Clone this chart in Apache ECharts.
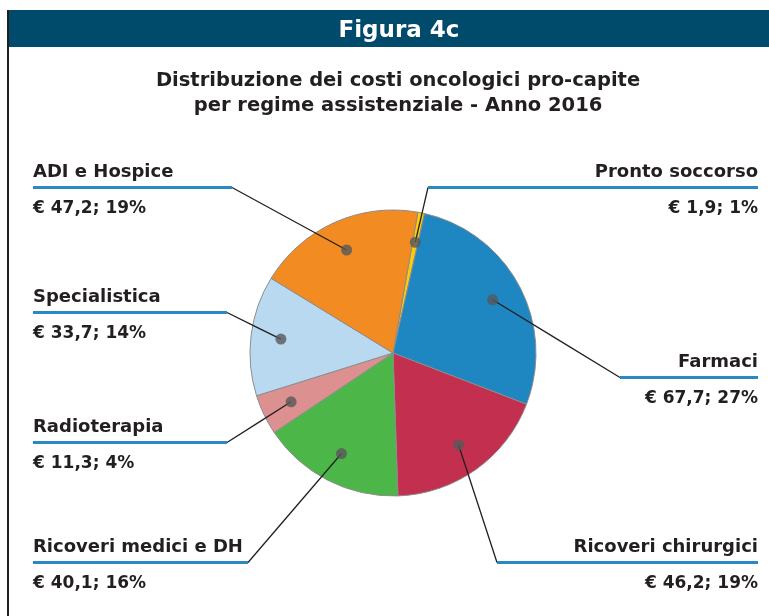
<!DOCTYPE html>
<html lang="it">
<head>
<meta charset="UTF-8">
<title>Figura 4c</title>
<style>
    html, body { margin: 0; padding: 0; background: #fff; }
    #main { width: 769px; height: 616px; }
</style>
</head>
<body>
<div id="main"></div>
<script src="https://cdn.jsdelivr.net/npm/echarts@6/dist/echarts.min.js"></script>
<script>
var categories = ['Pronto soccorso', 'Farmaci', 'Ricoveri chirurgici', 'Ricoveri medici e DH', 'Radioterapia', 'Specialistica', 'ADI e Hospice'];
var costs = [1.9, 67.7, 46.2, 40.1, 11.3, 33.7, 47.2];
var shares = [1, 27, 19, 16, 4, 14, 19];
var colors = ['#ffcb05', '#1e86c0', '#c32f4e', '#4cb748', '#dd9090', '#b9d9f1', '#f28b21'];

// label placement: side, top of the name line, inner end of the blue rule
var labelPos = [
    {side: 'right', top: 158, end: 428},
    {side: 'right', top: 348, end: 620},
    {side: 'right', top: 533, end: 497},
    {side: 'left', top: 533, end: 248},
    {side: 'left', top: 413, end: 227},
    {side: 'left', top: 283, end: 227},
    {side: 'left', top: 158, end: 232}
];

var CX = 393, CY = 353, R = 143, START = 80, DOT = 0.79;
var LEFT_X = 33, RIGHT_X = 758;
var FONT = '"DejaVu Sans"';
var INK = '#231f20';

var total = costs.reduce(function (a, b) { return a + b; }, 0);

var midValue = function (i) {
    var s = 0;
    for (var k = 0; k < i; k++) s += costs[k];
    return s + costs[i] / 2;
};

var chart = echarts.init(document.getElementById('main'));

var richFor = function (i) {
    var lp = labelPos[i];
    var w = lp.side === 'left' ? lp.end - LEFT_X : RIGHT_X - lp.end;
    return {
        n: {fontFamily: FONT, fontWeight: 'bold', fontSize: 18, color: INK, lineHeight: 28},
        u: {width: w, height: 3, lineHeight: 3, fontSize: 3, backgroundColor: '#2a88c5'},
        v: {fontFamily: FONT, fontWeight: 'bold', fontSize: 17, color: INK, lineHeight: 40}
    };
};

var option = {
    animation: false,
    graphic: [
        {type: 'rect', shape: {x: 9, y: 10, width: 760, height: 37}, style: {fill: '#004a6c'}},
        {type: 'rect', shape: {x: 7, y: 10, width: 2, height: 606}, style: {fill: INK}}
    ],
    title: [
        {
            text: 'Figura 4c',
            left: 394, top: 15, textAlign: 'center',
            textStyle: {fontFamily: FONT, fontWeight: 'bold', fontSize: 23, color: '#fff'}
        },
        {
            text: 'Distribuzione dei costi oncologici pro-capite\nper regime assistenziale - Anno 2016',
            left: 393, top: 63, textAlign: 'center',
            textStyle: {fontFamily: FONT, fontWeight: 'bold', fontSize: 19.5, lineHeight: 25, color: INK}
        }
    ],
    polar: {center: [CX, CY], radius: R},
    angleAxis: {type: 'value', min: 0, max: total, startAngle: START, clockwise: true, show: false},
    radiusAxis: {type: 'value', min: 0, max: 1, show: false},
    series: [
        {
            // coloured slices
            type: 'pie',
            center: [CX, CY],
            radius: R,
            startAngle: START,
            clockwise: true,
            silent: true,
            z: 2,
            itemStyle: {borderColor: '#8c8c8c', borderWidth: 1},
            label: {show: false},
            labelLine: {show: false},
            data: categories.map(function (name, i) {
                return {name: name, value: costs[i], itemStyle: {color: colors[i]}};
            })
        },
        {
            // same slices, invisible, carrying labels and leader lines above the colours
            type: 'pie',
            center: [CX, CY],
            radius: R,
            startAngle: START,
            clockwise: true,
            silent: true,
            z: 3,
            itemStyle: {color: 'rgba(0,0,0,0)', borderWidth: 0},
            label: {show: true, position: 'outside', width: 340, overflow: 'none'},
            labelLine: {show: true, lineStyle: {color: INK, width: 1.3}},
            labelLayout: function (p) {
                var i = p.dataIndex;
                var lp = labelPos[i];
                var pt = chart.convertToPixel({seriesIndex: 2}, [DOT, midValue(i)]);
                var ey = lp.top + 29.5;
                return {
                    x: lp.side === 'left' ? LEFT_X : RIGHT_X,
                    y: lp.top,
                    align: lp.side,
                    verticalAlign: 'top',
                    labelLinePoints: [pt, [(pt[0] + lp.end) / 2, (pt[1] + ey) / 2], [lp.end, ey]]
                };
            },
            data: categories.map(function (name, i) {
                return {
                    name: name,
                    value: costs[i],
                    label: {
                        formatter: '{n|' + name + '}\n{u|}\n{v|€ ' + costs[i].toFixed(1).replace('.', ',') + '; ' + shares[i] + '%}',
                        rich: richFor(i)
                    }
                };
            })
        },
        {
            type: 'scatter',
            coordinateSystem: 'polar',
            symbol: 'circle',
            symbolSize: 11,
            z: 5,
            silent: true,
            itemStyle: {color: '#58585a'},
            data: categories.map(function (name, i) {
                return [DOT, midValue(i)];
            })
        }
    ]
};

chart.setOption(option);
</script>
</body>
</html>
